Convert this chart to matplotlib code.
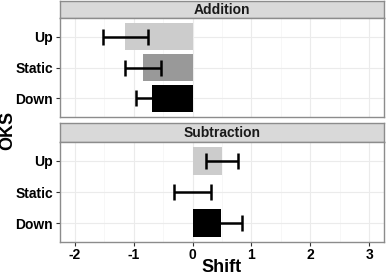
import matplotlib.pyplot as plt
import numpy as np

# data
categories = ['Up', 'Static', 'Down']
panels = ['Addition', 'Subtraction']
shift_add = [-1.14, -0.84, -0.69]
err_add = [0.38, 0.30, 0.27]
shift_sub = [0.50, 0.00, 0.49]
err_sub = [0.28, 0.32, 0.35]
bar_colors = ['#cccccc', '#999999', '#000000']
xticks = [-2, -1, 0, 1, 2, 3]

plt.rcParams['font.family'] = ['Liberation Sans', 'DejaVu Sans']
plt.rcParams['axes.unicode_minus'] = False

W, H = 387, 275
fig = plt.figure(figsize=(W / 100, H / 100), dpi=100)


def box(x0, y0, x1, y1):
    # pixel box -> figure fraction
    return [x0 / W, 1 - y1 / H, (x1 - x0) / W, (y1 - y0) / H]


layout = [
    (panels[0], shift_add, err_add, 1, 18, 117),
    (panels[1], shift_sub, err_sub, 123, 142, 242),
]

for i, (name, vals, errs, s_top, p_top, p_bot) in enumerate(layout):
    # strip
    sax = fig.add_axes(box(60, s_top, 384, p_top))
    sax.set_facecolor('#d9d9d9')
    sax.set_xticks([])
    sax.set_yticks([])
    for sp in sax.spines.values():
        sp.set_color('#8c8c8c')
        sp.set_linewidth(1.0)
    sax.text(0.5, 0.45, name, ha='center', va='center', fontsize=10,
             fontweight='bold', color='#1a1a1a', transform=sax.transAxes)

    ax = fig.add_axes(box(60, p_top, 384, p_bot))
    y = np.arange(len(categories))
    ax.barh(y, vals, height=0.9, color=bar_colors, zorder=2)
    ax.errorbar(vals, y, xerr=errs, fmt='none', ecolor='black',
                elinewidth=1.8, capsize=5.5, capthick=1.8, zorder=3)
    ax.set_yticks(y)
    ax.set_yticklabels(categories, fontsize=10, fontweight='bold')
    ax.set_xticks(xticks)
    ax.set_xticks(np.arange(-1.5, 3.0, 1), minor=True)
    ax.set_xlim(-2.25, 3.25)
    ax.set_ylim(len(categories) - 0.4, -0.6)
    ax.grid(True, which='major', color='#ebebeb', linewidth=0.8, zorder=0)
    ax.grid(True, which='minor', axis='x', color='#f4f4f4', linewidth=0.5, zorder=0)
    ax.tick_params(axis='y', which='major', length=3, color='#333333', pad=2)
    ax.tick_params(axis='x', which='minor', length=0)
    for sp in ax.spines.values():
        sp.set_color('#8c8c8c')
        sp.set_linewidth(1.0)
    if i == 0:
        ax.tick_params(axis='x', which='major', length=0, labelbottom=False)
    else:
        ax.tick_params(axis='x', which='major', length=3, color='#333333',
                       labelsize=10, pad=1.5)
        for lab in ax.get_xticklabels():
            lab.set_fontweight('bold')

fig.text(222 / W, 1 - 267 / H, 'Shift', ha='center', va='center',
         fontsize=13, fontweight='bold')
fig.text(8 / W, 1 - 130 / H, 'OKS', rotation=90, ha='center', va='center',
         fontsize=13, fontweight='bold')

plt.savefig('out.png', dpi=100)
